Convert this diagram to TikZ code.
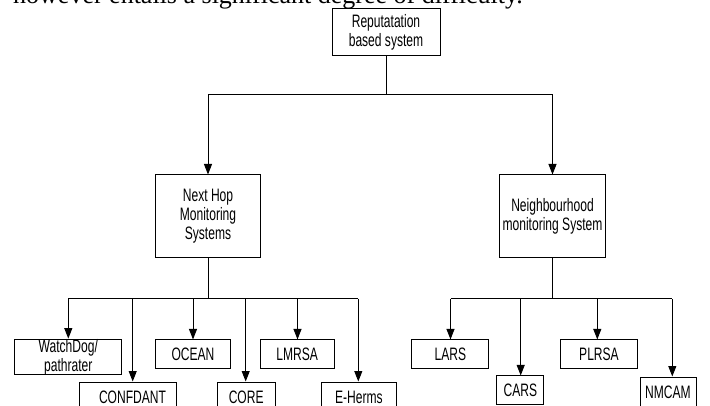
\documentclass[tikz,border=0pt]{standalone}
\usepackage{fontspec}
\setmainfont{Liberation Serif}
\newfontfamily\boxfont[FakeStretch=0.67]{Liberation Sans}
\usetikzlibrary{arrows.meta}
\begin{document}
\begin{tikzpicture}[x=1pt,y=-1pt,
  box/.style={draw, line width=1pt, inner sep=0pt, align=center,
              font=\boxfont\fontsize{18}{19}\selectfont},
  ln/.style={line width=1pt},
  arr/.style={line width=1pt, -{Triangle[width=8pt,length=10.5pt]}}]
\useasboundingbox (0,0) rectangle (710,406);
\clip (0,0) rectangle (710,406);
% partially visible running text above the figure
\node[anchor=base west, inner sep=0pt, font=\fontsize{26}{30}\selectfont] (cap) at (13,4)
  {however entails a significant degree of difficulty.};
% top level
\node[box, minimum width=108pt, minimum height=47pt] (top) at (386,32.5) {Reputatation\\based system};
\node[box, minimum width=105pt, minimum height=83pt] (nh) at (208,216.5) {Next Hop\\Monitoring\\Systems};
\node[box, minimum width=106.5pt, minimum height=83pt] (nb) at (552.5,216.5) {Neighbourhood\\monitoring System};
% left leaves
\node[box, minimum width=106.7pt, minimum height=34pt] (wd) at (68.3,357) {WatchDog/\\pathrater};
\node[box, minimum width=97pt, minimum height=30pt] (conf) at (127.5,397) {\hspace*{10pt}CONFDANT};
\node[box, minimum width=74.6pt, minimum height=28.7pt] (ocean) at (193,354.3) {OCEAN};
\node[box, minimum width=57.7pt, minimum height=30pt] (core) at (246.2,397) {CORE};
\node[box, minimum width=74.3pt, minimum height=28.7pt] (lmrsa) at (297.2,354.3) {LMRSA};
\node[box, minimum width=74.3pt, minimum height=30pt] (eh) at (358.9,397) {E-Herms};
% right leaves
\node[box, minimum width=77.3pt, minimum height=28.7pt] (lars) at (450.3,354.3) {LARS};
\node[box, minimum width=47.3pt, minimum height=28.7pt] (cars) at (520.3,390.3) {CARS};
\node[box, minimum width=76.7pt, minimum height=28.7pt] (plrsa) at (599,354.3) {PLRSA};
\node[box, minimum width=56pt, minimum height=30pt] (nmcam) at (668,392) {NMCAM};
% top connectors
\coordinate (j0) at (386,95);
\coordinate (jl) at (208,95);
\coordinate (jr) at (552.5,95);
\draw[ln] (top.south) -- (j0);
\draw[ln] (jl) -- (jr);
\draw[arr] (jl) -- (nh.north);
\draw[arr] (jr) -- (nb.north);
% left bus
\coordinate (l0) at (208,299);
\coordinate (l1) at (68.3,299);
\coordinate (l2) at (132.7,299);
\coordinate (l3) at (193,299);
\coordinate (l4) at (245.7,299);
\coordinate (l5) at (297.5,299);
\coordinate (l6) at (358.3,299);
\draw[ln] (nh.south) -- (l0);
\draw[ln] (l1) -- (l6);
\draw[arr] (l1) -- (l1 |- wd.north);
\draw[arr] (l2) -- (l2 |- conf.north);
\draw[arr] (l3) -- (l3 |- ocean.north);
\draw[arr] (l4) -- (l4 |- core.north);
\draw[arr] (l5) -- (l5 |- lmrsa.north);
\draw[arr] (l6) -- (l6 |- eh.north);
% right bus
\coordinate (r0) at (552.5,299);
\coordinate (r1) at (450.5,299);
\coordinate (r2) at (520.7,299);
\coordinate (r3) at (597.3,299);
\coordinate (r4) at (672.3,299);
\draw[ln] (nb.south) -- (r0);
\draw[ln] (r1) -- (r4);
\draw[arr] (r1) -- (r1 |- lars.north);
\draw[arr] (r2) -- (r2 |- cars.north);
\draw[arr] (r3) -- (r3 |- plrsa.north);
\draw[arr] (r4) -- (r4 |- nmcam.north);
\end{tikzpicture}
\end{document}
